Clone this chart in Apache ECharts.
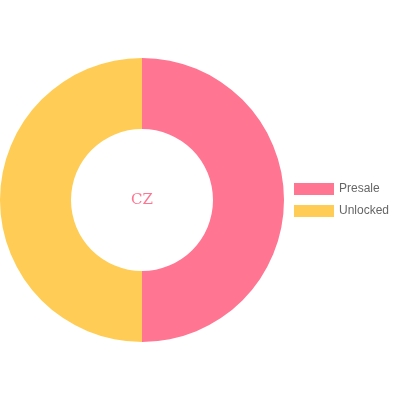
<!DOCTYPE html>
<html>
<head>
<meta charset="utf-8">
<script src="https://cdn.jsdelivr.net/npm/echarts@6/dist/echarts.min.js"></script>
<style>
  html, body { margin: 0; padding: 0; background: #fff; }
  #chart { width: 400px; height: 400px; }
</style>
</head>
<body>
<div id="chart"></div>
<script>
// 数据
const categories = ['Presale', 'Unlocked'];
const values = [50, 50];
const colors = ['#ff7592', '#ffcd56'];
const centerLabel = 'CZ';

const chart = echarts.init(document.getElementById('chart'));

let pieData = [];
for (let i = 0; i < categories.length; i++) {
  pieData.push({ name: categories[i], value: values[i] });
}

chart.setOption({
  animation: false,
  color: colors,
  graphic: [{
    type: 'text',
    x: 142,
    y: 200,
    style: {
      text: centerLabel,
      fill: '#ff7592',
      font: '15px "DejaVu Serif"',
      align: 'center',
      verticalAlign: 'middle'
    }
  }],
  legend: {
    orient: 'vertical',
    left: 289,
    top: 178,
    itemWidth: 40,
    itemHeight: 12,
    itemGap: 10,
    icon: 'rect',
    textStyle: {
      color: '#666',
      fontFamily: 'Liberation Sans',
      fontSize: 12
    },
    data: categories
  },
  series: [{
    type: 'pie',
    center: [142, 200],
    radius: [71, 142],
    startAngle: 90,
    clockwise: true,
    label: { show: false },
    labelLine: { show: false },
    emphasis: { disabled: true },
    data: pieData
  }]
});
</script>
</body>
</html>
